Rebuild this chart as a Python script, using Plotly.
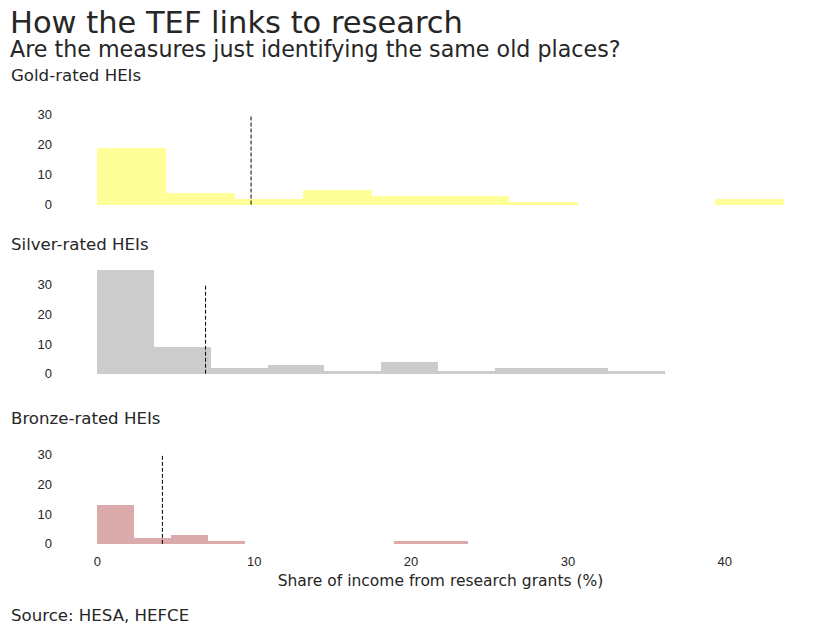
import plotly.graph_objects as go

# ---- data ----
tiers = ["Gold-rated HEIs", "Silver-rated HEIs", "Bronze-rated HEIs"]
colors = ["#FFFF99", "#CCCCCC", "#DBAAAA"]
bin_start = [0.0, 0.0, 0.0]
bin_width = [4.375, 3.62, 2.36]
gold_counts = [19, 4, 2, 5, 3, 3, 1, 0, 0, 2]
silver_counts = [35, 9, 2, 3, 1, 4, 1, 2, 2, 1]
bronze_counts = [13, 2, 3, 1, 0, 0, 0, 0, 1, 1]
counts = [gold_counts, silver_counts, bronze_counts]
medians = [9.8, 6.9, 4.15]
line_top = 30
x_ticks = [0, 10, 20, 30, 40]
y_ticks = [0, 10, 20, 30]
y_ranges = [[-1.5, 31.5], [-1.75, 36.75], [-1.5, 31.5]]

W, H = 828, 636
def py(px):
    return 1 - px / H

domains = [[py(208), py(108)], [py(379.5), py(264)], [py(550.5), py(451.5)]]
title_y = [73.5, 244, 419]

TXT = "#262626"
TFONT = "DejaVu Sans"
NFONT = "Liberation Sans"

fig = go.Figure()
for i in range(3):
    c = counts[i]
    w = bin_width[i]
    xs = [bin_start[i] + w * (k + 0.5) for k in range(len(c))]
    ax = "" if i == 0 else str(i + 1)
    fig.add_trace(go.Bar(x=xs, y=c, width=w, marker=dict(color=colors[i], line=dict(width=0)),
                         xaxis="x" + ax, yaxis="y" + ax, showlegend=False, hoverinfo="skip"))
    fig.add_shape(type="line", xref="x" + ax, yref="y" + ax, x0=medians[i], x1=medians[i],
                  y0=0, y1=line_top, line=dict(color="black", width=1, dash="4px,2px"))
    xa = dict(domain=[63 / W, 818 / W], range=[-2.1875, 45.9375], showgrid=False, zeroline=False,
              showline=False, tickvals=x_ticks, showticklabels=(i == 2),
              tickfont=dict(family=NFONT, size=13, color=TXT), ticks="", ticklabelstandoff=4)
    if i != 0:
        xa["anchor"] = "y" + ax
    ya = dict(domain=domains[i], range=y_ranges[i], showgrid=False, zeroline=False, showline=False,
              tickvals=y_ticks, tickfont=dict(family=NFONT, size=13, color=TXT), ticks="",
              ticklabelstandoff=10)
    if i != 0:
        ya["anchor"] = "x" + ax
    if i == 2:
        xa["title"] = dict(text="Share of income from research grants (%)",
                           font=dict(family=TFONT, size=15.5, color=TXT), standoff=6)
    fig.update_layout(**{"xaxis" + ax: xa, "yaxis" + ax: ya})
    fig.add_annotation(text=tiers[i], xref="paper", yref="paper", x=9 / W, y=py(title_y[i]),
                       xanchor="left", yanchor="middle", showarrow=False,
                       font=dict(family=TFONT, size=16.6, color=TXT))

fig.add_annotation(text="How the TEF links to research", xref="paper", yref="paper", x=8 / W,
                   y=py(20), xanchor="left", yanchor="middle", showarrow=False,
                   font=dict(family=TFONT, size=30.5, color=TXT))
fig.add_annotation(text="Are the measures just identifying the same old places?", xref="paper",
                   yref="paper", x=8 / W, y=py(46.5), xanchor="left", yanchor="middle",
                   showarrow=False, font=dict(family=TFONT, size=22.2, color=TXT))
fig.add_annotation(text="Source: HESA, HEFCE", xref="paper", yref="paper", x=9 / W, y=py(618.5),
                   xanchor="left", yanchor="middle", showarrow=False,
                   font=dict(family=TFONT, size=16.6, color=TXT))

fig.update_layout(width=W, height=H, margin=dict(l=0, r=0, t=0, b=0), bargap=0,
                  plot_bgcolor="white", paper_bgcolor="white")
fig.write_html("out.html")
